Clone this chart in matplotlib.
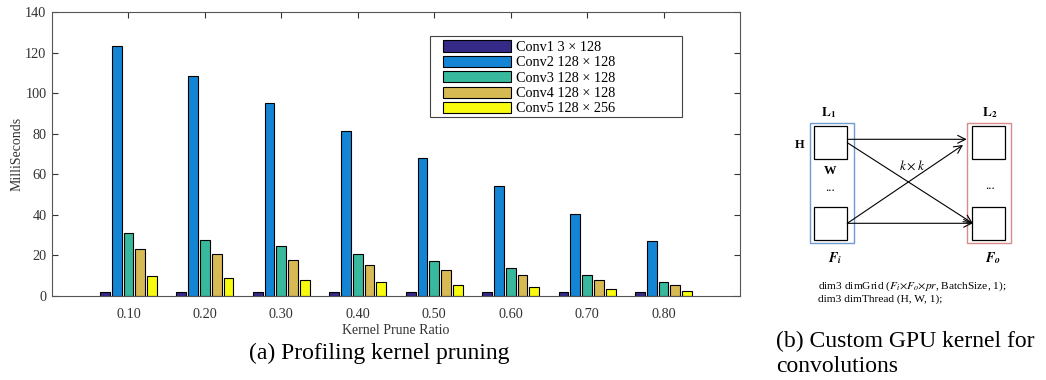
import matplotlib
matplotlib.use('Agg')
import matplotlib.pyplot as plt
from matplotlib.patches import Rectangle

plt.rcParams['font.family'] = ['Liberation Serif', 'DejaVu Serif']
plt.rcParams['mathtext.fontset'] = 'stix'

ratios = ['0.10', '0.20', '0.30', '0.40', '0.50', '0.60', '0.70', '0.80']
layers = ['Conv1 3 × 128', 'Conv2 128 × 128', 'Conv3 128 × 128',
          'Conv4 128 × 128', 'Conv5 128 × 256']
conv1 = [2.2, 2.2, 2.2, 2.2, 2.2, 2.2, 2.2, 2.2]
conv2 = [123.0, 108.5, 95.0, 81.5, 68.0, 54.4, 40.6, 27.1]
conv3 = [31.2, 27.8, 24.5, 20.9, 17.4, 14.0, 10.5, 7.1]
conv4 = [23.0, 20.5, 17.9, 15.5, 13.0, 10.2, 8.1, 5.3]
conv5 = [10.0, 9.1, 8.1, 6.7, 5.6, 4.4, 3.4, 2.3]
colors = ['#352A87', '#1485D4', '#38B99E', '#D8BA55', '#F9FB0E']

fig = plt.figure(figsize=(10.46, 3.8), dpi=100)
ax = fig.add_axes([52 / 1046, 1 - 296 / 380, 688 / 1046, 284 / 380])
ax.set_axisbelow(True)

x = range(1, len(ratios) + 1)
for j, (vals, lab) in enumerate(zip([conv1, conv2, conv3, conv4, conv5], layers)):
    ax.bar([i + (j - 2) * 0.154 for i in x], vals, width=0.128, color=colors[j],
           edgecolor='black', linewidth=0.8, label=lab)

ax.set_xlim(0, 9)
ax.set_ylim(0, 140)
ax.set_xticks(list(x))
ax.set_xticklabels(ratios)
ax.set_yticks(range(0, 141, 20))
ax.tick_params(direction='in', top=True, right=True, labelsize=10.3, colors='#333333',
               length=4, width=0.8)
ax.tick_params(axis='x', pad=8.5)
ax.tick_params(axis='y', pad=4)
for s in ax.spines.values():
    s.set_color('#555555')
    s.set_linewidth(0.8)
ax.set_xlabel('Kernel Prune Ratio', fontsize=10, color='#333333', labelpad=2)
ax.set_ylabel('MilliSeconds', fontsize=10, color='#333333', labelpad=1)

# legend: frame drawn by hand so the padding matches the original
ax.add_patch(Rectangle((0.5494, 0.6303), 0.3663, 0.2863, transform=ax.transAxes,
                       facecolor='white', edgecolor='#444444', lw=0.8, zorder=4))
leg = ax.legend(loc='upper left', bbox_to_anchor=(0.5688, 0.900), frameon=False,
                fontsize=10.3, handlelength=4.7, handleheight=0.82, handletextpad=0.35,
                labelspacing=0.13, borderpad=0, borderaxespad=0)
leg.set_zorder(5)

fig.text(379 / 1046, 1 - 353 / 380, '(a) Profiling kernel pruning', fontsize=17,
         ha='center', va='center')

# panel (b): kernel diagram in pixel coordinates
d = fig.add_axes([0, 0, 1, 1])
d.set_xlim(0, 1046)
d.set_ylim(380, 0)
d.axis('off')
d.patch.set_alpha(0)

d.add_patch(Rectangle((810, 123.3), 44, 120, fill=False, edgecolor='#6F9BD1', lw=1))
d.add_patch(Rectangle((966.7, 122.7), 44.3, 120.6, fill=False, edgecolor='#D98A8A', lw=1))
for sx in (814, 971.7):
    for sy in (126, 206.7):
        d.add_patch(Rectangle((sx, sy), 33.3, 33.3, fill=False, edgecolor='black', lw=0.9))

arrows = [((847.3, 139.3), (966.7, 139.3)),
          ((847.3, 142.7), (972.7, 223.3)),
          ((847.3, 223.3), (963.0, 145.0)),
          ((847.3, 223.3), (972.7, 223.3))]
for a, b in arrows:
    d.annotate('', xy=b, xytext=a,
               arrowprops=dict(arrowstyle='->', color='black', lw=0.8,
                               shrinkA=0, shrinkB=0, mutation_scale=14))

d.text(829, 112.5, r'$\mathbf{L}_\mathbf{1}$', fontsize=9.5, ha='center', va='center')
d.text(990, 112.5, r'$\mathbf{L}_\mathbf{2}$', fontsize=9.5, ha='center', va='center')
d.text(800, 145, 'H', fontsize=9, fontweight='bold', ha='center', va='center')
d.text(830, 171, 'W', fontsize=9, fontweight='bold', ha='center', va='center')
d.text(830, 188, '...', fontsize=9, ha='center', va='center')
d.text(990, 186, '...', fontsize=9, ha='center', va='center')
d.text(912, 166, r'$k\times k$', fontsize=9.5, ha='center', va='center')
d.text(835, 258, r'$\mathbfit{F}_\mathbfit{i}$', fontsize=10, ha='center', va='center')
d.text(993, 258, r'$\mathbfit{F}_\mathbfit{o}$', fontsize=10, ha='center', va='center')
d.text(818, 286, r'dim3 dimGrid ($F_i$$\times$$F_o$$\times$$pr$, BatchSize, 1);',
       fontsize=8.2, ha='left', va='center')
d.text(818, 298.7, 'dim3 dimThread (H, W, 1);', fontsize=8.2, ha='left', va='center')

d.text(776, 341, '(b) Custom GPU kernel for', fontsize=17, ha='left', va='center')
d.text(776, 366, 'convolutions', fontsize=17, ha='left', va='center')

fig.savefig('out.png', dpi=100)
